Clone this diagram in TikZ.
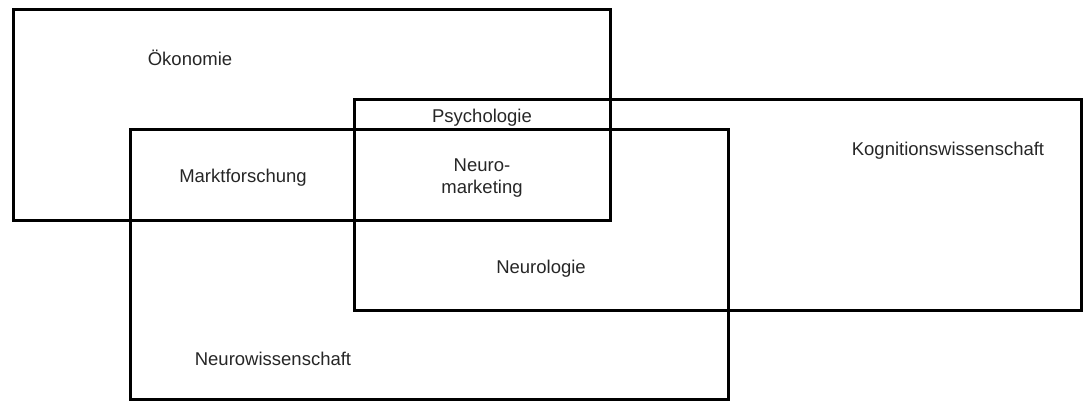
\documentclass[tikz,border=0pt]{standalone}
\usepackage{fontspec}
\setmainfont{Liberation Sans}
\usepackage{tikz}
\tikzset{field/.style={draw,line width=3pt},
  label/.style={align=center,font=\fontsize{18.5}{22}\selectfont,text=black!85}}

\begin{document}
\begin{tikzpicture}[x=1pt,y=-1pt]
      \useasboundingbox (0, 0) rectangle (1084, 401);

      \draw[field] (13, 10) rectangle (610, 220);
      \draw[field] (354, 100) rectangle (1081, 310);
      \draw[field] (130, 130) rectangle (728, 399);

      \node[label](oeko) at (190, 58) {Ökonomie};
      \node[label](psych) at (482, 118) {Psychologie};
      \node[label](kogn) at (948, 151) {Kognitionswissenschaft};
      \node[label](markt) at (243, 178) {Marktforschung};
      \node[label](nm) at (482, 178) {Neuro-\\marketing};
      \node[label](neurol) at (541, 269) {Neurologie};
      \node[label](neurow) at (273, 359) {Neurowissenschaft};
    \end{tikzpicture}
\end{document}
